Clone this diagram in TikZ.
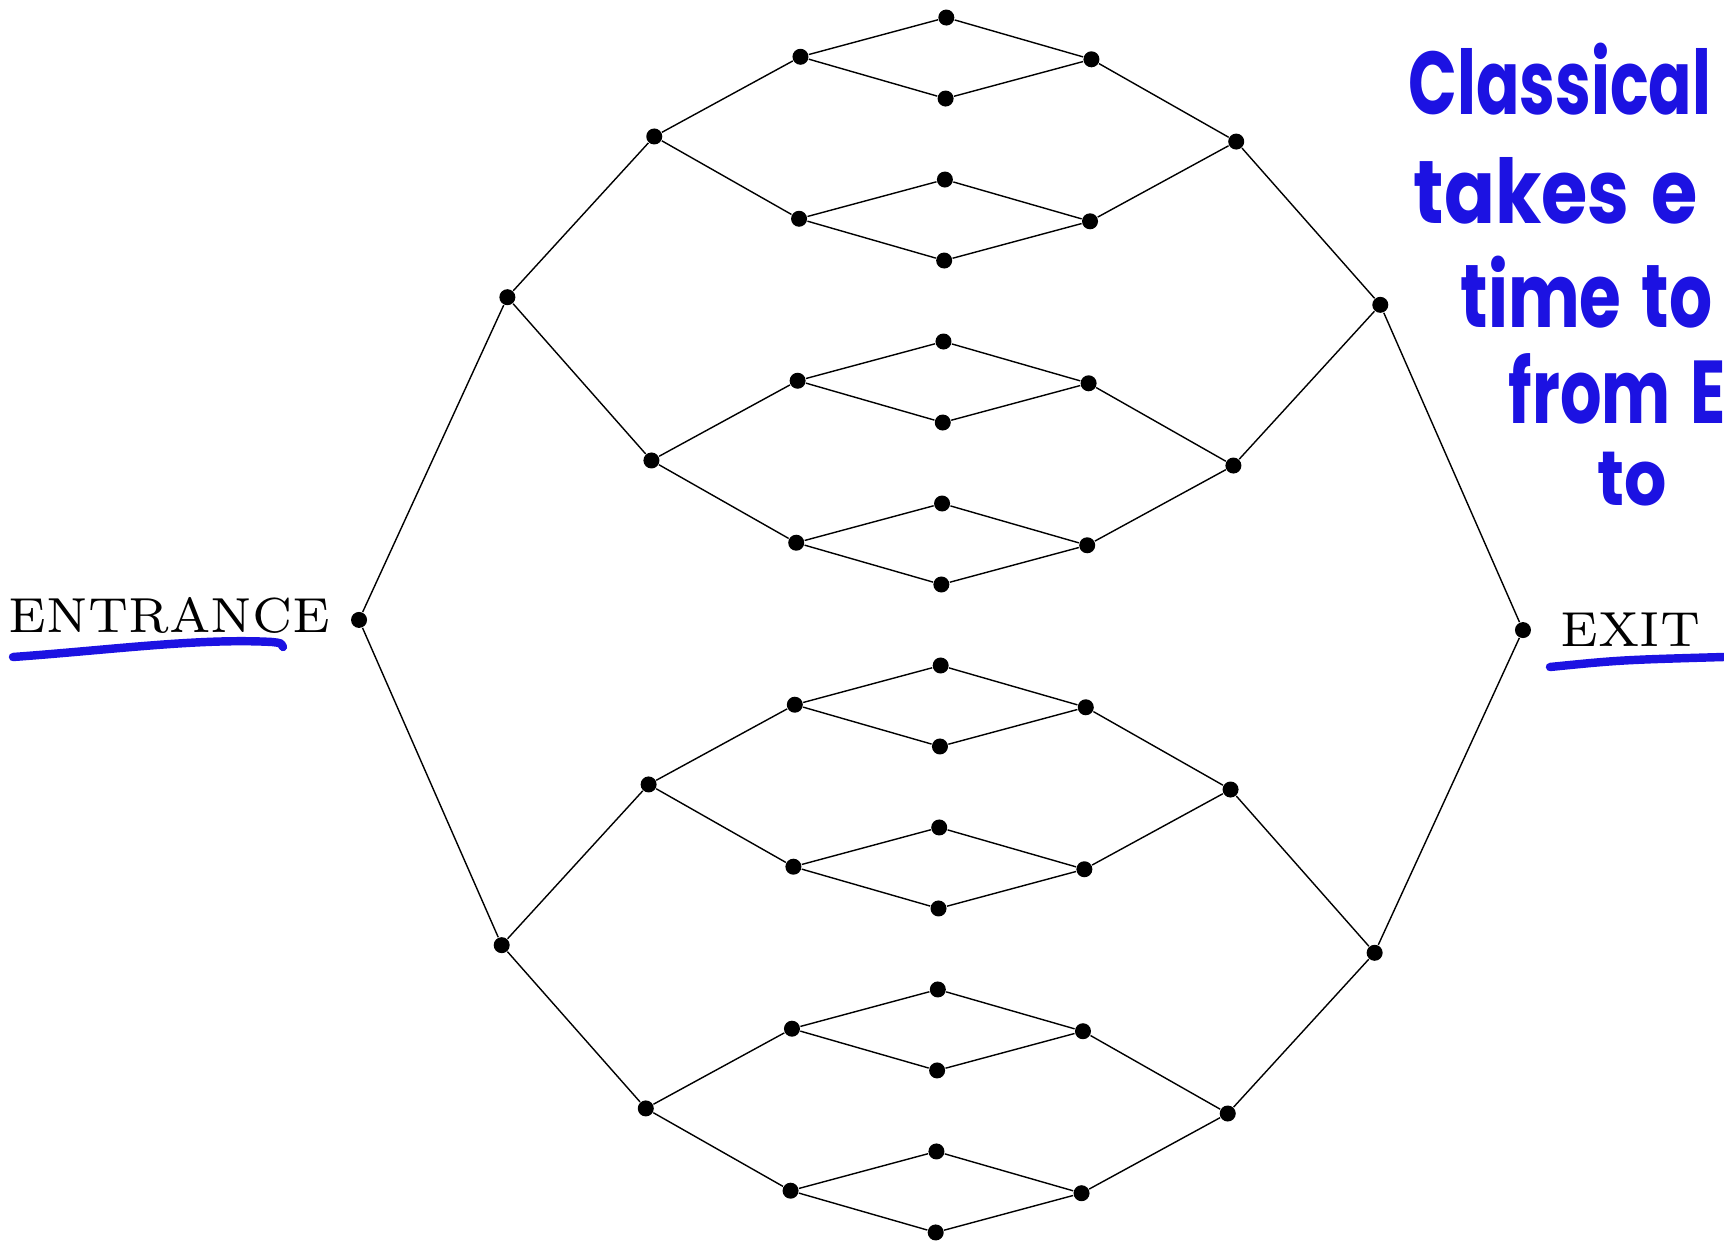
\documentclass[tikz,border=0pt]{standalone}
\usepackage{graphicx}
\usepackage{fontspec}
\newfontfamily\handfont{Poppins}[WordSpace=1.4]
\usepackage{xcolor}
\usepackage{tikz}
\usetikzlibrary{positioning}
\definecolor{pen}{RGB}{28,18,226}

\begin{document}
\begin{tikzpicture}[
    x=0.01cm, y=-0.01cm,
    dot/.style={circle,fill=black,inner sep=0pt,minimum size=1.6mm},
    wire/.style={line width=0.4pt},
    endlabel/.style={inner sep=0pt,font=\fontsize{7}{8}\selectfont},
    note/.style={inner sep=0pt,anchor=base west,text=pen,
        font=\handfont\bfseries\fontsize{17.5}{19}\selectfont},
    penline/.style={draw=pen,line width=2.4pt,line cap=round}
]
\useasboundingbox (0,0) rectangle (1724,1243);
\begin{scope}[shift={(941,625)},rotate=-0.5]
% glued leaves in the middle
\foreach \i in {1,...,16}
    \node[dot] (m\i) at (0,{(\i-8.5)*81}) {};
% both trees, level by level
\foreach \i in {1,...,8} {
    \node[dot] (l3-\i) at (-145.5,{(\i-4.5)*162}) {};
    \node[dot] (r3-\i) at (145.5,{(\i-4.5)*162}) {};
}
\foreach \i in {1,...,4} {
    \node[dot] (l2-\i) at (-291,{(\i-2.5)*324}) {};
    \node[dot] (r2-\i) at (291,{(\i-2.5)*324}) {};
}
\foreach \i in {1,2} {
    \node[dot] (l1-\i) at (-436.5,{(\i-1.5)*648}) {};
    \node[dot] (r1-\i) at (436.5,{(\i-1.5)*648}) {};
}
\node[dot] (ent) at (-582,0) {};
\node[dot] (ext) at (582,0) {};
\end{scope}

\foreach \i [evaluate=\i as \a using int(2*\i-1),
             evaluate=\i as \b using int(2*\i)] in {1,...,8}
    \draw[wire] (m\a) -- (l3-\i) -- (m\b) -- (r3-\i) -- (m\a);
\foreach \i [evaluate=\i as \a using int(2*\i-1),
             evaluate=\i as \b using int(2*\i)] in {1,...,4} {
    \draw[wire] (l3-\a) -- (l2-\i) -- (l3-\b);
    \draw[wire] (r3-\a) -- (r2-\i) -- (r3-\b);
}
\foreach \i [evaluate=\i as \a using int(2*\i-1),
             evaluate=\i as \b using int(2*\i)] in {1,2} {
    \draw[wire] (l2-\a) -- (l1-\i) -- (l2-\b);
    \draw[wire] (r2-\a) -- (r1-\i) -- (r2-\b);
}
\draw[wire] (l1-1) -- (ent) -- (l1-2);
\draw[wire] (r1-1) -- (ext) -- (r1-2);

% labels and the pen notes
\node[endlabel,left=1.95mm of ent,yshift=0.4mm] (entlbl) {\scalebox{2}{ENTRANCE}};
\node[endlabel,right=2.8mm of ext] (extlbl) {\scalebox{2}{EXIT}};
\draw[penline] (13,657) .. controls (110,650) and (200,638) .. (272,642)
    .. controls (281,643) .. (283,647);
\draw[penline] (1550,667) .. controls (1620,660) .. (1724,657);

\node[note] (n1) at (1408,115) {\scalebox{1.04}[1.45]{Classical}};
\node[note] (n2) at (1413,224) {\scalebox{1.22}[1.45]{takes e}};
\node[note] (n3) at (1460,328) {\scalebox{1.1}[1.45]{time to}};
\node[note] (n4) at (1508,424) {\scalebox{1.06}[1.45]{from E}};
\node[note] (n5) at (1597,506) {\scalebox{1.08}[1.25]{to}};
\end{tikzpicture}
\end{document}
